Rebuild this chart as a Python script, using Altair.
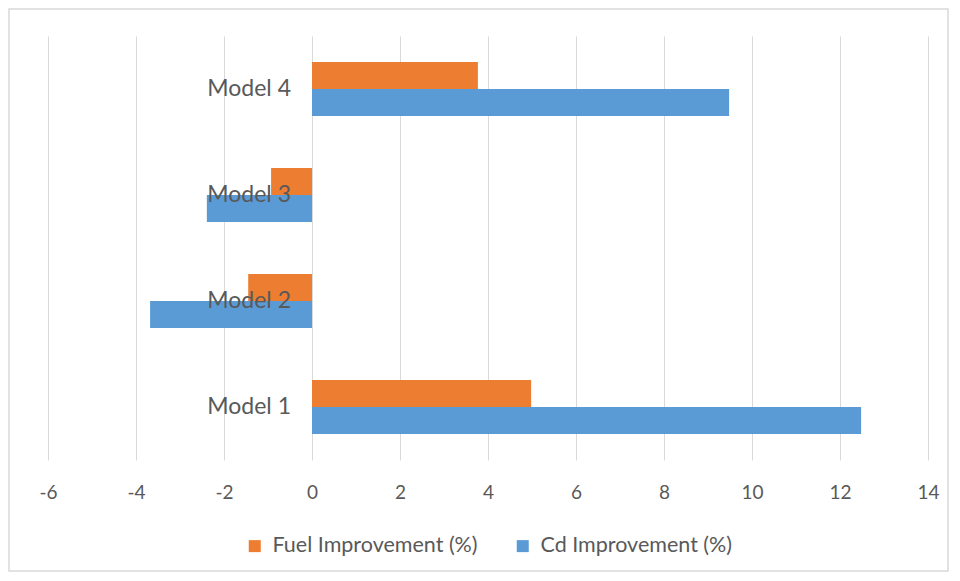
import altair as alt
import pandas as pd

models = ["Model 1", "Model 2", "Model 3", "Model 4"]
fuel_improvement = [4.98, -1.45, -0.93, 3.77]
cd_improvement = [12.48, -3.68, -2.39, 9.48]
series = ["Fuel Improvement (%)", "Cd Improvement (%)"]
colors = ["#ED7D31", "#5B9BD5"]
x_ticks = [-6, -4, -2, 0, 2, 4, 6, 8, 10, 12, 14]

rows = []
for m, f, c in zip(models, fuel_improvement, cd_improvement):
    rows.append({"model": m, "series": series[0], "value": f})
    rows.append({"model": m, "series": series[1], "value": c})
df = pd.DataFrame(rows)
labels_df = pd.DataFrame({"model": models, "zero": [0] * len(models)})

FONT = "Lato"
GRAY = "#595959"

y_enc = alt.Y(
    "model:N",
    sort=models[::-1],
    axis=None,
    scale=alt.Scale(paddingInner=0.49, paddingOuter=0.245),
)

bars = alt.Chart(df).mark_bar(size=27).encode(
    x=alt.X(
        "value:Q",
        scale=alt.Scale(domain=[-6, 14], nice=False),
        axis=alt.Axis(
            values=x_ticks,
            title=None,
            domain=False,
            ticks=False,
            labelFlush=False,
            labelPadding=23,
            labelFont=FONT,
            labelFontSize=19,
            labelColor=GRAY,
            labelExpr="'' + datum.value",
            gridColor="#D9D9D9",
            gridWidth=1,
        ),
    ),
    y=y_enc,
    yOffset=alt.YOffset("series:N", sort=series),
    color=alt.Color(
        "series:N",
        sort=series,
        scale=alt.Scale(domain=series, range=colors),
        legend=alt.Legend(
            title=None,
            orient="none",
            direction="horizontal",
            legendX=196,
            legendY=499,
            symbolType="square",
            symbolSize=144,
            symbolStrokeWidth=0,
            symbolOpacity=1,
            labelFont=FONT,
            labelFontSize=21.5,
            labelColor=GRAY,
            labelLimit=400,
            columnPadding=34,
            labelOffset=7,
        ),
    ),
)

labels = alt.Chart(labels_df).mark_text(
    align="right", baseline="middle", dx=-21, font=FONT, fontSize=23, color=GRAY
).encode(
    x=alt.X("zero:Q"),
    y=y_enc,
    text="model:N",
)

border = alt.Chart(pd.DataFrame({"a": [0]})).mark_rect(
    filled=False, stroke="#D9D9D9", strokeWidth=1.5
).encode(
    x=alt.value(-39), x2=alt.value(900), y=alt.value(-27), y2=alt.value(535)
)

chart = alt.layer(bars, labels, border).properties(
    width=880,
    height=424,
    padding=0,
    background="white",
).configure_view(strokeWidth=0, stroke="transparent")

chart.save("out.html", embed_options={"renderer": "svg", "actions": False})
